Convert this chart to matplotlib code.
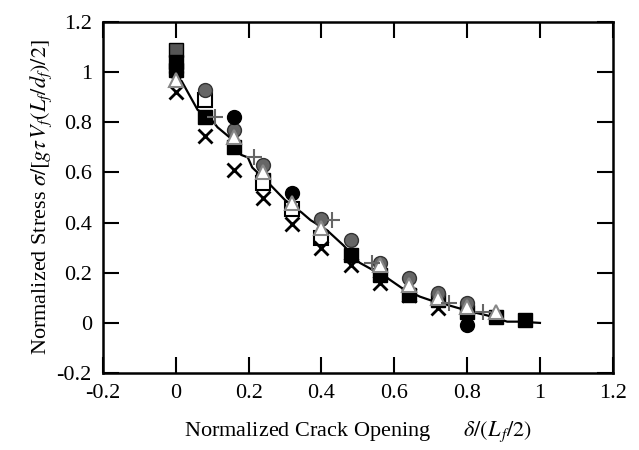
import matplotlib
matplotlib.use('Agg')
import matplotlib.pyplot as plt

plt.rcParams['font.family'] = ['Liberation Serif', 'DejaVu Serif']
plt.rcParams['mathtext.fontset'] = 'stix'

# test series
x_cross = [0, 0.08, 0.16, 0.24, 0.32, 0.40, 0.48, 0.56, 0.64, 0.72]
y_cross = [0.92, 0.745, 0.61, 0.50, 0.395, 0.30, 0.23, 0.16, 0.11, 0.06]

x_bcirc = [0, 0.16, 0.32, 0.80]
y_bcirc = [1.00, 0.82, 0.52, -0.01]

x_gcirc = [0.08, 0.16, 0.24, 0.40, 0.48, 0.56, 0.64, 0.72, 0.80]
y_gcirc = [0.93, 0.77, 0.63, 0.415, 0.33, 0.24, 0.18, 0.12, 0.08]

x_osq = [0.08, 0.24, 0.32, 0.40]
y_osq = [0.89, 0.56, 0.455, 0.34]

x_bsq = [0, 0, 0.08, 0.16, 0.24, 0.48, 0.56, 0.64, 0.72, 0.80, 0.88, 0.96]
y_bsq = [1.04, 1.01, 0.82, 0.70, 0.57, 0.27, 0.19, 0.11, 0.09, 0.045, 0.025, 0.012]

x_gsq = [0]
y_gsq = [1.09]

x_tri = [0, 0.16, 0.24, 0.32, 0.40, 0.56, 0.64, 0.72, 0.80, 0.88]
y_tri = [0.97, 0.74, 0.60, 0.48, 0.38, 0.23, 0.15, 0.10, 0.065, 0.045]

x_plus = [0.107, 0.214, 0.43, 0.54, 0.75, 0.845]
y_plus = [0.82, 0.66, 0.41, 0.24, 0.08, 0.045]

# model curve
x_line = [0, 0.016, 0.06, 0.093, 0.115, 0.148, 0.18, 0.198, 0.21, 0.26, 0.30,
          0.346, 0.37, 0.415, 0.46, 0.505, 0.58, 0.62, 0.67, 0.70, 0.725, 0.75,
          0.81, 0.855, 0.91, 0.945, 1.0]
y_line = [0.98, 0.965, 0.85, 0.82, 0.78, 0.74, 0.67, 0.66, 0.62, 0.55, 0.49,
          0.44, 0.41, 0.37, 0.31, 0.24, 0.18, 0.14, 0.105, 0.09, 0.08, 0.07,
          0.045, 0.03, 0.005, 0.005, 0.0]

fig = plt.figure(figsize=(6.39, 4.5), dpi=100)
ax = fig.add_axes([0.161, 0.171, 0.798, 0.78])

ms = 10
ax.plot(x_line, y_line, '-', color='black', lw=1.6, zorder=2)
ax.plot(x_gsq, y_gsq, 's', ms=ms, color='#555555', mec='black', zorder=3)
ax.plot(x_bsq, y_bsq, 's', ms=ms, color='black', zorder=3)
ax.plot(x_osq, y_osq, 's', ms=ms, mfc='white', mec='black', mew=1.5, zorder=4)
ax.plot(x_gcirc, y_gcirc, 'o', ms=ms, color='#666666', mec='#333333', zorder=4)
ax.plot(x_bcirc, y_bcirc, 'o', ms=ms, color='black', zorder=4)
ax.plot(x_tri, y_tri, '^', ms=ms, mfc='white', mec='#888888', mew=1.5, zorder=5)
ax.plot(x_cross, y_cross, 'x', ms=ms, color='black', mew=2, zorder=4)
ax.plot(x_plus, y_plus, '+', ms=ms + 1, color='#666666', mew=1.5, zorder=5)

ax.set_xlim(-0.2, 1.2)
ax.set_ylim(-0.2, 1.2)
ax.set_xticks([-0.2, 0, 0.2, 0.4, 0.6, 0.8, 1, 1.2])
ax.set_yticks([-0.2, 0, 0.2, 0.4, 0.6, 0.8, 1, 1.2])
ax.set_xticklabels(['-0.2', '0', '0.2', '0.4', '0.6', '0.8', '1', '1.2'])
ax.set_yticklabels(['-0.2', '0', '0.2', '0.4', '0.6', '0.8', '1', '1.2'])
ax.tick_params(direction='in', length=11.5, width=1.5, top=True, right=True,
               labelsize=16, pad=8)
for s in ax.spines.values():
    s.set_linewidth(1.8)

ax.set_xlabel(r'Normalized Crack Opening      $\delta/(L_{\,f}/2)$', fontsize=16, labelpad=12)
ax.set_ylabel(r'Normalized Stress $\sigma/[g\tau\,V_f(L_f/d_f)/2]$', fontsize=16, labelpad=2)

plt.savefig('out.png', dpi=100)
